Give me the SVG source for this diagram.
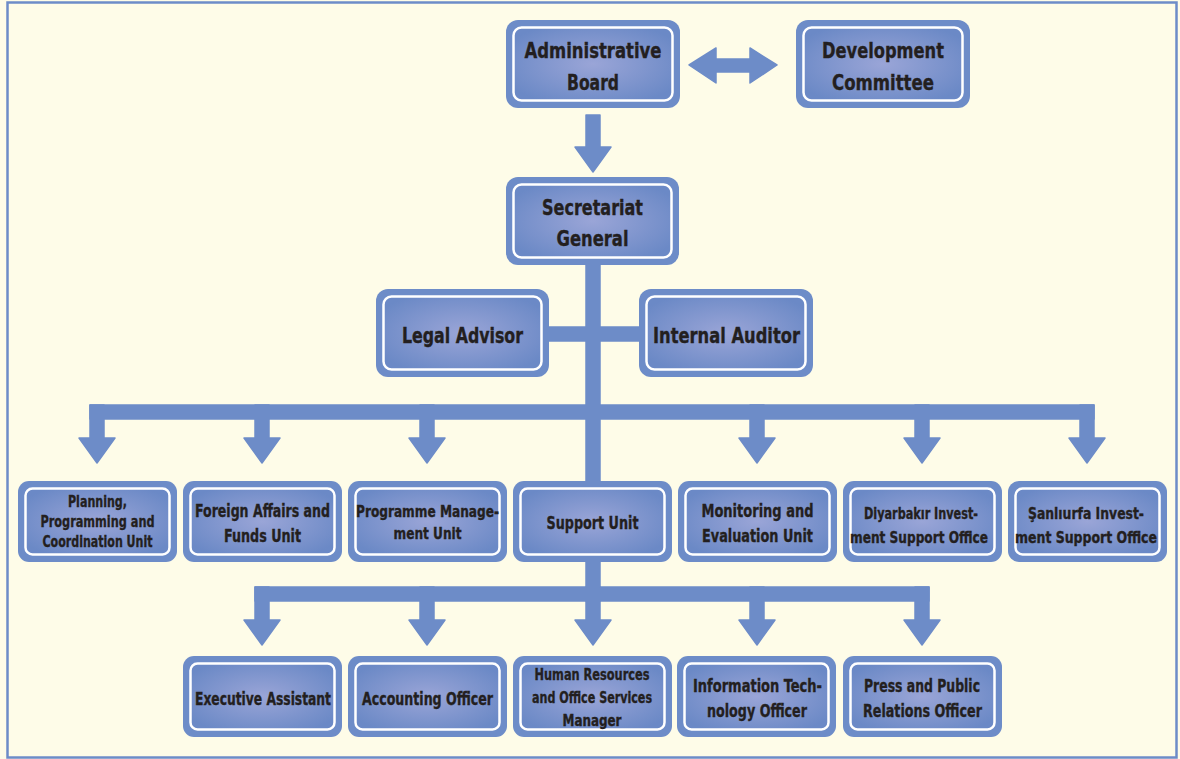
<svg xmlns="http://www.w3.org/2000/svg" width="1180" height="759" viewBox="0 0 1180 759">
<defs>
<radialGradient id="g" cx="0.5" cy="0.5" r="0.6">
<stop offset="0" stop-color="#9aa5d7"/>
<stop offset="1" stop-color="#6b89c6"/>
</radialGradient>
<style>
.o{fill:#6d8cc8}
.i{fill:url(#g);stroke:#ffffff;stroke-width:2.5}
.c{fill:#6d8cc8;stroke:#6d8cc8;stroke-width:1.5;stroke-linejoin:round}
text{font-family:"Liberation Sans Narrow","DejaVu Sans Condensed","Liberation Sans",sans-serif;font-weight:bold;fill:#231f20;stroke:#231f20;stroke-width:0.35;text-anchor:middle}
.t22{font-size:22px}
.t18{font-size:18px}
.t16{font-size:16px}
.t17{font-size:17px}
</style>
</defs>
<rect x="0" y="0" width="1180" height="759" fill="#fefce8"/>
<rect x="7.5" y="2.5" width="1169" height="755" fill="none" stroke="#6d8cc8" stroke-width="2.5"/>

<g id="connectors">
<polygon class="c" points="689,65 716,48 716,59 750,59 750,48 777,65 750,83 750,72 716,72 716,83"/>
<rect class="c" x="586" y="115" width="14" height="33"/>
<polygon class="c" points="575,147 611,147 593,172"/>
<rect class="c" x="586" y="265" width="14" height="216"/>
<rect class="c" x="549" y="327" width="90" height="14"/>
<rect class="c" x="90" y="405" width="1004" height="14"/>
<rect class="c" x="90" y="405" width="14" height="34"/>
<polygon class="c" points="79,438 115,438 97,463"/>
<rect class="c" x="255" y="405" width="14" height="34"/>
<polygon class="c" points="244,438 280,438 262,463"/>
<rect class="c" x="420" y="405" width="14" height="34"/>
<polygon class="c" points="409,438 445,438 427,463"/>
<rect class="c" x="750" y="405" width="14" height="34"/>
<polygon class="c" points="739,438 775,438 757,463"/>
<rect class="c" x="915" y="405" width="14" height="34"/>
<polygon class="c" points="904,438 940,438 922,463"/>
<rect class="c" x="1080" y="405" width="14" height="34"/>
<polygon class="c" points="1069,438 1105,438 1087,463"/>
<rect class="c" x="586" y="562" width="14" height="39"/>
<rect class="c" x="255" y="587" width="674" height="14"/>
<rect class="c" x="255" y="587" width="14" height="34"/>
<polygon class="c" points="244,620 280,620 262,645"/>
<rect class="c" x="420" y="587" width="14" height="34"/>
<polygon class="c" points="409,620 445,620 427,645"/>
<rect class="c" x="586" y="587" width="14" height="34"/>
<polygon class="c" points="575,620 611,620 593,645"/>
<rect class="c" x="750" y="587" width="14" height="34"/>
<polygon class="c" points="739,620 775,620 757,645"/>
<rect class="c" x="915" y="587" width="14" height="34"/>
<polygon class="c" points="904,620 940,620 922,645"/>
</g>

<g id="admin-board">
<rect class="o" x="506" y="20" width="174" height="88" rx="12"/>
<rect class="i" x="513.5" y="27.5" width="159" height="73" rx="8"/>
<text class="t22" x="593" y="58" textLength="137" lengthAdjust="spacingAndGlyphs">Administrative</text>
<text class="t22" x="593" y="90" textLength="52" lengthAdjust="spacingAndGlyphs">Board</text>
</g>
<g id="development-committee">
<rect class="o" x="796" y="20" width="174" height="88" rx="12"/>
<rect class="i" x="803.5" y="27.5" width="159" height="73" rx="8"/>
<text class="t22" x="883" y="58" textLength="122" lengthAdjust="spacingAndGlyphs">Development</text>
<text class="t22" x="883" y="90" textLength="102" lengthAdjust="spacingAndGlyphs">Committee</text>
</g>
<g id="secretariat-general">
<rect class="o" x="506" y="177" width="173" height="88" rx="12"/>
<rect class="i" x="513.5" y="184.5" width="158" height="73" rx="8"/>
<text class="t22" x="592.5" y="215" textLength="101" lengthAdjust="spacingAndGlyphs">Secretariat</text>
<text class="t22" x="592.5" y="246" textLength="72" lengthAdjust="spacingAndGlyphs">General</text>
</g>
<g id="legal-advisor">
<rect class="o" x="376" y="289" width="173" height="88" rx="12"/>
<rect class="i" x="383.5" y="296.5" width="158" height="73" rx="8"/>
<text class="t22" x="462.5" y="343" textLength="121" lengthAdjust="spacingAndGlyphs">Legal Advisor</text>
</g>
<g id="internal-auditor">
<rect class="o" x="639" y="289" width="174" height="88" rx="12"/>
<rect class="i" x="646.5" y="296.5" width="159" height="73" rx="8"/>
<text class="t22" x="726.5" y="343" textLength="147" lengthAdjust="spacingAndGlyphs">Internal Auditor</text>
</g>

<g id="planning-unit">
<rect class="o" x="18" y="481" width="159" height="81" rx="11"/>
<rect class="i" x="25.5" y="488.5" width="144" height="66" rx="7"/>
<text class="t16" x="97.5" y="507" textLength="59" lengthAdjust="spacingAndGlyphs">Planning,</text>
<text class="t16" x="97.5" y="527" textLength="114" lengthAdjust="spacingAndGlyphs">Programming and</text>
<text class="t16" x="97.5" y="547" textLength="110" lengthAdjust="spacingAndGlyphs">Coordination Unit</text>
</g>
<g id="foreign-affairs-unit">
<rect class="o" x="183" y="481" width="159" height="81" rx="11"/>
<rect class="i" x="190.5" y="488.5" width="144" height="66" rx="7"/>
<text class="t18" x="262.5" y="517" textLength="135" lengthAdjust="spacingAndGlyphs">Foreign Affairs and</text>
<text class="t18" x="262.5" y="542" textLength="77" lengthAdjust="spacingAndGlyphs">Funds Unit</text>
</g>
<g id="programme-management-unit">
<rect class="o" x="348" y="481" width="159" height="81" rx="11"/>
<rect class="i" x="355.5" y="488.5" width="144" height="66" rx="7"/>
<text class="t16" x="427.5" y="517" textLength="143" lengthAdjust="spacingAndGlyphs">Programme Manage-</text>
<text class="t16" x="427.5" y="539" textLength="68" lengthAdjust="spacingAndGlyphs">ment Unit</text>
</g>
<g id="support-unit">
<rect class="o" x="513" y="481" width="159" height="81" rx="11"/>
<rect class="i" x="520.5" y="488.5" width="144" height="66" rx="7"/>
<text class="t18" x="592.5" y="529" textLength="92" lengthAdjust="spacingAndGlyphs">Support Unit</text>
</g>
<g id="monitoring-evaluation-unit">
<rect class="o" x="678" y="481" width="159" height="81" rx="11"/>
<rect class="i" x="685.5" y="488.5" width="144" height="66" rx="7"/>
<text class="t18" x="757.5" y="517" textLength="112" lengthAdjust="spacingAndGlyphs">Monitoring and</text>
<text class="t18" x="757.5" y="542" textLength="111" lengthAdjust="spacingAndGlyphs">Evaluation Unit</text>
</g>
<g id="diyarbakir-office">
<rect class="o" x="843" y="481" width="159" height="81" rx="11"/>
<rect class="i" x="850.5" y="488.5" width="144" height="66" rx="7"/>
<text class="t16" x="921" y="519" textLength="114" lengthAdjust="spacingAndGlyphs">Diyarbakır Invest-</text>
<text class="t16" x="919" y="543" textLength="138" lengthAdjust="spacingAndGlyphs">ment Support Office</text>
</g>
<g id="sanliurfa-office">
<rect class="o" x="1008" y="481" width="159" height="81" rx="11"/>
<rect class="i" x="1015.5" y="488.5" width="144" height="66" rx="7"/>
<text class="t16" x="1086" y="519" textLength="116" lengthAdjust="spacingAndGlyphs">Şanlıurfa Invest-</text>
<text class="t16" x="1086" y="543" textLength="142" lengthAdjust="spacingAndGlyphs">ment Support Office</text>
</g>

<g id="executive-assistant">
<rect class="o" x="183" y="656" width="159" height="81" rx="11"/>
<rect class="i" x="190.5" y="663.5" width="144" height="66" rx="7"/>
<text class="t17" x="263" y="705" textLength="136" lengthAdjust="spacingAndGlyphs">Executive Assistant</text>
</g>
<g id="accounting-officer">
<rect class="o" x="348" y="656" width="159" height="81" rx="11"/>
<rect class="i" x="355.5" y="663.5" width="144" height="66" rx="7"/>
<text class="t17" x="427.5" y="705" textLength="131" lengthAdjust="spacingAndGlyphs">Accounting Officer</text>
</g>
<g id="hr-manager">
<rect class="o" x="513" y="656" width="159" height="81" rx="11"/>
<rect class="i" x="520.5" y="663.5" width="144" height="66" rx="7"/>
<text class="t16" x="592" y="680" textLength="115" lengthAdjust="spacingAndGlyphs">Human Resources</text>
<text class="t16" x="592" y="703" textLength="120" lengthAdjust="spacingAndGlyphs">and Office Services</text>
<text class="t16" x="592" y="726" textLength="59" lengthAdjust="spacingAndGlyphs">Manager</text>
</g>
<g id="it-officer">
<rect class="o" x="677" y="656" width="159" height="81" rx="11"/>
<rect class="i" x="684.5" y="663.5" width="144" height="66" rx="7"/>
<text class="t18" x="757.5" y="692" textLength="129" lengthAdjust="spacingAndGlyphs">Information Tech-</text>
<text class="t18" x="757" y="717" textLength="100" lengthAdjust="spacingAndGlyphs">nology Officer</text>
</g>
<g id="press-officer">
<rect class="o" x="843" y="656" width="159" height="81" rx="11"/>
<rect class="i" x="850.5" y="663.5" width="144" height="66" rx="7"/>
<text class="t18" x="922" y="692" textLength="116" lengthAdjust="spacingAndGlyphs">Press and Public</text>
<text class="t18" x="922.5" y="717" textLength="119" lengthAdjust="spacingAndGlyphs">Relations Officer</text>
</g>
</svg>
